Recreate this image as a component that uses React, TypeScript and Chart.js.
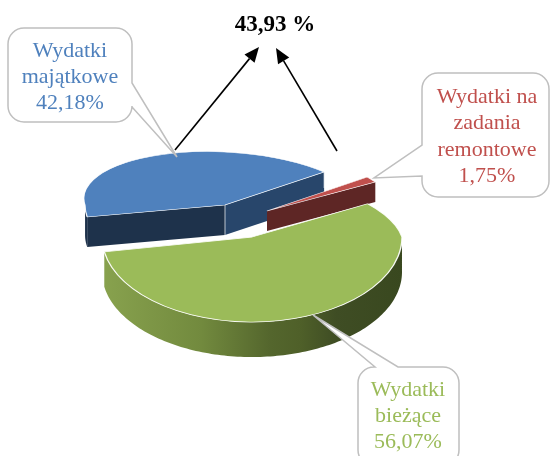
import React, { useEffect, useRef } from "react";
import { Chart, registerables } from "chart.js";

Chart.register(...registerables);

const categories = ["Wydatki majątkowe", "Wydatki na zadania remontowe", "Wydatki bieżące"];
const shares = [42.18, 1.75, 56.07];
const sumLabel = "43,93 %";
const blueLines = ["Wydatki", "majątkowe", "42,18%"];
const redLines = ["Wydatki na", "zadania", "remontowe", "1,75%"];
const greenLines = ["Wydatki", "bieżące", "56,07%"];

const topColors = ["#4f81bd", "#c0504d", "#9bbb59"];
const FONT = '"Liberation Serif", "Times New Roman", serif';

// how each slice is exploded and foreshortened
const sliceStyles = [
  { dx: -50.5, dy: -23, kx: 0.933, kb: 0.356, kf: 0.46, skew: 0.118, depth: 30, cut1: "#1e324b", cut2: "#28466b", outer: "#1e324b" },
  { dx: -8.5, dy: -17, kx: 0.85, kb: 0.366, kf: 0.366, skew: 0, depth: 20, cut1: "#5e2625", cut2: "#5e2625", outer: "#5e2625" },
  { dx: -23.5, dy: 9, kx: 1, kb: 0.42, kf: 0.567, skew: 0.15, depth: 35, cut1: "", cut2: "", outer: "gradient" },
];

const callouts = [
  { lines: blueLines, color: topColors[0], x0: 8, y0: 28, x1: 132, y1: 122, cx: 70, base: 57, step: 26, side: "right", p: [[132, 83], [177, 157], [132, 107]] },
  { lines: redLines, color: topColors[1], x0: 422, y0: 73, x1: 549, y1: 197, cx: 487, base: 103, step: 26.4, side: "left", p: [[422, 145], [374, 178], [422, 176]] },
  { lines: greenLines, color: topColors[2], x0: 358, y0: 367, x1: 459, y1: 466, cx: 408, base: 396, step: 26, side: "top", p: [[375, 367], [313, 315], [398, 367]] },
];

const arrows = [
  [[175, 150], [259, 47]],
  [[337, 151], [276, 48]],
];

const project = (st: any, el: any, a: number) => {
  const r = el.outerRadius;
  const u = r * Math.cos(a);
  const v = r * Math.sin(a);
  const back = v < 0;
  return [
    el.x + st.dx + st.kx * u + (back ? st.skew * v : 0),
    el.y + st.dy + (back ? st.kb : st.kf) * v,
  ];
};

const quad = (ctx: any, a: number[], b: number[], d: number, fill: any) => {
  ctx.beginPath();
  ctx.moveTo(a[0], a[1]);
  ctx.lineTo(b[0], b[1]);
  ctx.lineTo(b[0], b[1] + d);
  ctx.lineTo(a[0], a[1] + d);
  ctx.closePath();
  ctx.fillStyle = fill;
  ctx.fill();
};

const drawSlice = (chart: any, i: number) => {
  const ctx = chart.ctx;
  const el = chart.getDatasetMeta(0).data[i] as any;
  const st = sliceStyles[i];
  const tip = [el.x + st.dx, el.y + st.dy];
  const start = project(st, el, el.startAngle);
  const end = project(st, el, el.endAngle);

  // cut faces that look towards the viewer
  if (st.cut2) quad(ctx, tip, end, st.depth, st.cut2);
  if (st.cut1 && i === 0) quad(ctx, tip, start, st.depth, st.cut1);

  // outer wall on the front half
  const pts: number[][] = [];
  const n = 160;
  for (let k = 0; k <= n; k++) {
    const a = el.startAngle + ((el.endAngle - el.startAngle) * k) / n;
    if (Math.sin(a) >= 0) pts.push(project(st, el, a));
  }
  if (pts.length > 1 && i !== 1) {
    let fill: any = st.outer;
    if (st.outer === "gradient") {
      const g = ctx.createLinearGradient(tip[0] - 150, 0, tip[0] + 150, 0);
      g.addColorStop(0, "#88a24e");
      g.addColorStop(0.33, "#728a3e");
      g.addColorStop(0.56, "#54662d");
      g.addColorStop(0.66, "#4f6029");
      g.addColorStop(0.78, "#3f4d24");
      g.addColorStop(1, "#39481f");
      fill = g;
    }
    ctx.beginPath();
    pts.forEach((p, j) => (j ? ctx.lineTo(p[0], p[1]) : ctx.moveTo(p[0], p[1])));
    for (let j = pts.length - 1; j >= 0; j--) ctx.lineTo(pts[j][0], pts[j][1] + st.depth);
    ctx.closePath();
    ctx.fillStyle = fill;
    ctx.fill();
  }

  if (i === 0) {
    ctx.beginPath();
    ctx.moveTo(tip[0], tip[1]);
    ctx.lineTo(tip[0], tip[1] + st.depth);
    ctx.moveTo(end[0], end[1]);
    ctx.lineTo(end[0], end[1] + st.depth - 14);
    ctx.strokeStyle = "rgba(255,255,255,0.7)";
    ctx.lineWidth = 1;
    ctx.stroke();
  }

  // top face, in two halves: far half flatter than the near one
  const W = chart.width;
  const H = chart.height;
  [true, false].forEach((back) => {
    ctx.save();
    ctx.beginPath();
    if (back) ctx.rect(0, 0, W, tip[1]);
    else ctx.rect(0, tip[1], W, H - tip[1]);
    ctx.clip();
    ctx.translate(tip[0], tip[1]);
    ctx.transform(st.kx, 0, back ? st.skew : 0, back ? st.kb : st.kf, 0, 0);
    ctx.translate(-el.x, -el.y);
    el.draw(ctx);
    ctx.restore();
  });
};

const pie3d = {
  id: "pie3d",
  beforeDatasetsDraw(chart: any) {
    [0, 1, 2].forEach((i) => drawSlice(chart, i));
    return false;
  },
  afterDraw(chart: any) {
    const ctx = chart.ctx;
    callouts.forEach((c) => {
      const r = 16;
      ctx.beginPath();
      ctx.moveTo(c.x0 + r, c.y0);
      if (c.side === "top") c.p.forEach((q) => ctx.lineTo(q[0], q[1]));
      ctx.arcTo(c.x1, c.y0, c.x1, c.y1, r);
      if (c.side === "right") c.p.forEach((q) => ctx.lineTo(q[0], q[1]));
      ctx.arcTo(c.x1, c.y1, c.x0, c.y1, r);
      ctx.arcTo(c.x0, c.y1, c.x0, c.y0, r);
      if (c.side === "left") [...c.p].reverse().forEach((q) => ctx.lineTo(q[0], q[1]));
      ctx.arcTo(c.x0, c.y0, c.x1, c.y0, r);
      ctx.closePath();
      ctx.fillStyle = "#ffffff";
      ctx.fill();
      ctx.strokeStyle = "#bfbfbf";
      ctx.lineWidth = 1.5;
      ctx.stroke();
      ctx.fillStyle = c.color;
      ctx.font = `22px ${FONT}`;
      ctx.textAlign = "center";
      ctx.textBaseline = "alphabetic";
      c.lines.forEach((t, j) => ctx.fillText(t, c.cx, c.base + j * c.step));
    });

    arrows.forEach(([a, b]) => {
      const ang = Math.atan2(b[1] - a[1], b[0] - a[0]);
      const len = 15;
      const w = 6.5;
      const bx = b[0] - len * Math.cos(ang);
      const by = b[1] - len * Math.sin(ang);
      ctx.beginPath();
      ctx.moveTo(a[0], a[1]);
      ctx.lineTo(bx, by);
      ctx.strokeStyle = "#000000";
      ctx.lineWidth = 1.6;
      ctx.stroke();
      ctx.beginPath();
      ctx.moveTo(b[0], b[1]);
      ctx.lineTo(bx - w * Math.sin(ang), by + w * Math.cos(ang));
      ctx.lineTo(bx + w * Math.sin(ang), by - w * Math.cos(ang));
      ctx.closePath();
      ctx.fillStyle = "#000000";
      ctx.fill();
    });

    ctx.fillStyle = "#000000";
    ctx.font = `bold 23px ${FONT}`;
    ctx.textAlign = "center";
    ctx.fillText(sumLabel, 275, 31);
  },
};

export default function App() {
  const ref = useRef<HTMLCanvasElement>(null);
  useEffect(() => {
    const chart = new Chart(ref.current!, {
      type: "pie",
      data: {
        labels: categories,
        datasets: [
          {
            data: shares,
            backgroundColor: topColors,
            borderColor: "rgba(255,255,255,0.9)",
            borderWidth: 1.4,
            radius: 150,
          } as any,
        ],
      },
      options: {
        responsive: false,
        animation: false,
        rotation: 260,
        layout: { padding: 0 },
        plugins: { legend: { display: false }, tooltip: { enabled: false }, title: { display: false } },
      },
      plugins: [pie3d as any],
    });
    return () => chart.destroy();
  }, []);
  return (
    <div style={{ position: "absolute", left: 0, top: 0, width: 551, height: 456, background: "#fff" }}>
      <canvas ref={ref} width={551} height={456} style={{ display: "block" }} />
    </div>
  );
}
